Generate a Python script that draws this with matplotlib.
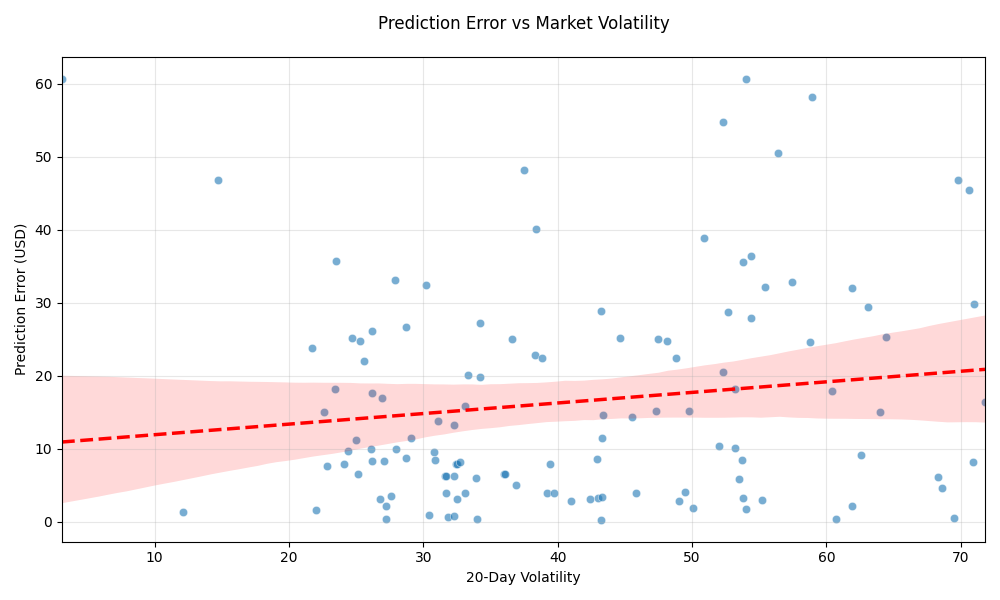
import matplotlib
matplotlib.use("Agg")
import matplotlib.pyplot as plt
import seaborn as sns
import numpy as np
import pandas as pd

# 20-day volatility vs absolute prediction error
volatility = [
    3.1, 14.7, 12.1, 22.0, 21.7, 23.5, 23.4, 22.6, 22.8, 24.1,
    24.4, 25.0, 24.7, 25.3, 25.6, 26.2, 26.2, 26.9, 25.1, 26.1,
    26.2, 27.1, 26.8, 27.2, 27.2, 27.6, 27.9, 28.0, 28.7, 28.7,
    29.1, 30.2, 30.4, 30.8, 30.9, 31.1, 31.6, 31.7, 32.3, 31.7,
    31.8, 32.3, 32.3, 32.4, 32.5, 32.7, 32.5, 33.1, 33.1, 33.3,
    33.9, 34.0, 34.2, 34.2, 36.0, 36.1, 36.9, 36.6, 37.5, 38.4,
    38.3, 38.8, 39.4, 39.2, 39.7, 41.0, 42.4, 42.9, 43.0, 43.3,
    43.2, 43.4, 43.3, 43.2, 44.6, 45.5, 45.8, 47.3, 47.5, 48.1,
    48.8, 49.0, 49.5, 49.8, 50.1, 50.9, 52.0, 52.3, 52.3, 52.7,
    53.2, 53.2, 53.5, 53.7, 53.8, 53.8, 54.0, 54.0, 54.4, 54.4,
    55.2, 55.4, 56.4, 57.4, 58.8, 58.9, 60.4, 60.7, 61.9, 61.9,
    62.6, 63.1, 64.0, 64.4, 68.3, 68.6, 69.5, 69.8, 70.6, 70.9,
    71.0, 71.8,
]
pred_error = [
    60.7, 46.8, 1.4, 1.6, 23.8, 35.8, 18.2, 15.1, 7.7, 7.9,
    9.7, 11.2, 25.2, 24.8, 22.1, 26.2, 17.7, 17.0, 6.6, 10.0,
    8.4, 8.4, 3.2, 2.2, 0.4, 3.6, 33.2, 10.0, 26.7, 8.8,
    11.5, 32.5, 1.0, 9.6, 8.5, 13.8, 6.3, 6.3, 6.3, 4.0,
    0.7, 13.3, 0.8, 7.9, 7.9, 8.2, 3.2, 4.0, 15.9, 20.1,
    6.0, 0.4, 19.9, 27.3, 6.6, 6.6, 5.1, 25.1, 48.2, 40.1,
    22.9, 22.5, 7.9, 3.9, 3.9, 2.9, 3.2, 8.6, 3.3, 3.4,
    28.9, 14.7, 11.5, 0.3, 25.2, 14.3, 3.9, 15.2, 25.1, 24.8,
    22.5, 2.9, 4.1, 15.2, 1.9, 38.9, 10.4, 20.5, 54.8, 28.8,
    18.2, 10.1, 5.9, 8.5, 3.3, 35.6, 60.7, 1.8, 36.4, 27.9,
    3.0, 32.2, 50.5, 32.9, 24.7, 58.2, 17.9, 0.4, 32.1, 2.2,
    9.2, 29.5, 15.1, 25.3, 6.2, 4.7, 0.5, 46.8, 45.5, 8.2,
    29.9, 16.4,
]

df = pd.DataFrame({"volatility": volatility, "error": pred_error})

fig, ax = plt.subplots(figsize=(10, 6), dpi=100)

sns.scatterplot(data=df, x="volatility", y="error", alpha=0.6, ax=ax)
sns.regplot(data=df, x="volatility", y="error", scatter=False, color="red",
            line_kws={"linestyle": "--", "linewidth": 2.5}, seed=1, ax=ax)

ax.set_xlim(df["volatility"].min(), df["volatility"].max())
ax.set_xlabel("20-Day Volatility")
ax.set_ylabel("Prediction Error (USD)")
ax.grid(True, alpha=0.3)
ax.set_title("Prediction Error vs Market Volatility", fontsize=12, pad=20)

plt.tight_layout()
plt.savefig("out.png")
